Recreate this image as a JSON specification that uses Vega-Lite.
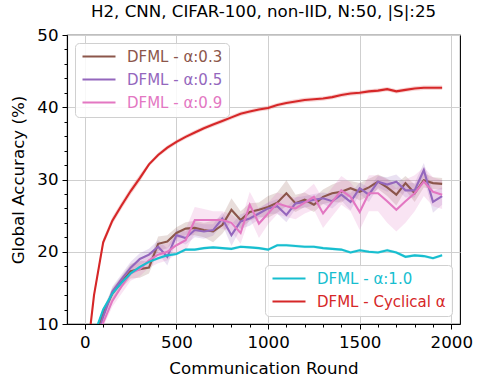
{
  "$schema": "https://vega.github.io/schema/vega-lite/v6.json",
  "width": 393,
  "height": 289,
  "autosize": {"type": "none"},
  "padding": {"left": 67, "top": 35, "right": 25, "bottom": 63},
  "background": "white",
  "config": {
    "font": "DejaVu Sans",
    "view": {"stroke": "black", "strokeWidth": 1.1},
    "axis": {
      "domainColor": "black", "domainWidth": 1.1, "tickColor": "black", "tickWidth": 1,
      "labelColor": "black", "titleColor": "black", "labelFont": "DejaVu Sans", "titleFont": "DejaVu Sans",
      "labelFontSize": 16.67, "titleFontSize": 16.67, "titleFontWeight": "normal",
      "gridColor": "#cfcfcf", "gridWidth": 1
    },
    "legend": {
      "labelFont": "DejaVu Sans", "labelFontSize": 15, "symbolType": "stroke", "symbolSize": 1089,
      "symbolStrokeWidth": 2.2, "labelOffset": 10, "rowPadding": 7, "padding": 6, "clipHeight": 15,
      "strokeColor": "#d0d0d0", "fillColor": "rgba(255,255,255,0.85)", "cornerRadius": 4, "offset": 8
    }
  },
  "title": {"text": "H2, CNN, CIFAR-100, non-IID, N:50, |S|:25", "font": "DejaVu Sans", "fontSize": 16.67, "fontWeight": "normal", "color": "black", "anchor": "middle", "offset": 6},
  "data": {"values": [
    {"round":0,"series":"DFML - α:0.3","acc":4,"lo":3.7,"hi":4.3},
    {"round":50,"series":"DFML - α:0.3","acc":7.5,"lo":7.1,"hi":7.9},
    {"round":100,"series":"DFML - α:0.3","acc":11.5,"lo":10.9,"hi":12.1},
    {"round":150,"series":"DFML - α:0.3","acc":14.2,"lo":13.4,"hi":15.0},
    {"round":200,"series":"DFML - α:0.3","acc":15.8,"lo":15.0,"hi":16.6},
    {"round":250,"series":"DFML - α:0.3","acc":17.3,"lo":16.3,"hi":18.3},
    {"round":300,"series":"DFML - α:0.3","acc":17.6,"lo":16.4,"hi":18.8},
    {"round":350,"series":"DFML - α:0.3","acc":17.8,"lo":17.0,"hi":18.6},
    {"round":400,"series":"DFML - α:0.3","acc":21.1,"lo":20.1,"hi":22.1},
    {"round":450,"series":"DFML - α:0.3","acc":21.4,"lo":20.5,"hi":22.3},
    {"round":500,"series":"DFML - α:0.3","acc":22.6,"lo":21.8,"hi":23.4},
    {"round":550,"series":"DFML - α:0.3","acc":23.2,"lo":22.3,"hi":24.1},
    {"round":600,"series":"DFML - α:0.3","acc":23.3,"lo":22.3,"hi":24.3},
    {"round":650,"series":"DFML - α:0.3","acc":23.0,"lo":22.0,"hi":24.0},
    {"round":700,"series":"DFML - α:0.3","acc":22.8,"lo":21.3,"hi":24.3},
    {"round":750,"series":"DFML - α:0.3","acc":23.7,"lo":22.5,"hi":24.9},
    {"round":800,"series":"DFML - α:0.3","acc":25.8,"lo":24.2,"hi":27.4},
    {"round":850,"series":"DFML - α:0.3","acc":24.4,"lo":23.2,"hi":25.6},
    {"round":900,"series":"DFML - α:0.3","acc":25.5,"lo":24.3,"hi":26.7},
    {"round":950,"series":"DFML - α:0.3","acc":25.8,"lo":24.8,"hi":26.8},
    {"round":1000,"series":"DFML - α:0.3","acc":26.2,"lo":24.7,"hi":27.7},
    {"round":1050,"series":"DFML - α:0.3","acc":26.8,"lo":25.4,"hi":28.2},
    {"round":1100,"series":"DFML - α:0.3","acc":28.1,"lo":26.3,"hi":29.9},
    {"round":1150,"series":"DFML - α:0.3","acc":26.7,"lo":25.5,"hi":27.9},
    {"round":1200,"series":"DFML - α:0.3","acc":27.2,"lo":26.2,"hi":28.2},
    {"round":1250,"series":"DFML - α:0.3","acc":26.5,"lo":25.5,"hi":27.5},
    {"round":1300,"series":"DFML - α:0.3","acc":27.6,"lo":26.6,"hi":28.6},
    {"round":1350,"series":"DFML - α:0.3","acc":28.1,"lo":26.9,"hi":29.3},
    {"round":1400,"series":"DFML - α:0.3","acc":28.3,"lo":26.8,"hi":29.8},
    {"round":1450,"series":"DFML - α:0.3","acc":28.8,"lo":27.8,"hi":29.8},
    {"round":1500,"series":"DFML - α:0.3","acc":28.3,"lo":27.1,"hi":29.5},
    {"round":1550,"series":"DFML - α:0.3","acc":28.9,"lo":27.7,"hi":30.1},
    {"round":1600,"series":"DFML - α:0.3","acc":29.7,"lo":28.7,"hi":30.7},
    {"round":1650,"series":"DFML - α:0.3","acc":28.9,"lo":27.7,"hi":30.1},
    {"round":1700,"series":"DFML - α:0.3","acc":27.9,"lo":26.4,"hi":29.4},
    {"round":1750,"series":"DFML - α:0.3","acc":29.5,"lo":28.5,"hi":30.5},
    {"round":1800,"series":"DFML - α:0.3","acc":28.1,"lo":26.9,"hi":29.3},
    {"round":1850,"series":"DFML - α:0.3","acc":29.9,"lo":28.9,"hi":30.9},
    {"round":1900,"series":"DFML - α:0.3","acc":29.5,"lo":28.7,"hi":30.3},
    {"round":1950,"series":"DFML - α:0.3","acc":29.4,"lo":28.6,"hi":30.2},

    {"round":0,"series":"DFML - α:0.5","acc":3,"lo":2.7,"hi":3.3},
    {"round":50,"series":"DFML - α:0.5","acc":6.5,"lo":6.1,"hi":6.9},
    {"round":100,"series":"DFML - α:0.5","acc":11.0,"lo":10.4,"hi":11.6},
    {"round":150,"series":"DFML - α:0.5","acc":14.5,"lo":13.8,"hi":15.2},
    {"round":200,"series":"DFML - α:0.5","acc":16.2,"lo":15.5,"hi":16.9},
    {"round":250,"series":"DFML - α:0.5","acc":17.8,"lo":17.0,"hi":18.6},
    {"round":300,"series":"DFML - α:0.5","acc":19.0,"lo":18.2,"hi":19.8},
    {"round":350,"series":"DFML - α:0.5","acc":19.6,"lo":18.8,"hi":20.4},
    {"round":400,"series":"DFML - α:0.5","acc":20.7,"lo":19.8,"hi":21.6},
    {"round":450,"series":"DFML - α:0.5","acc":19.3,"lo":18.1,"hi":20.5},
    {"round":500,"series":"DFML - α:0.5","acc":22.3,"lo":21.5,"hi":23.1},
    {"round":550,"series":"DFML - α:0.5","acc":21.9,"lo":21.0,"hi":22.8},
    {"round":600,"series":"DFML - α:0.5","acc":23.0,"lo":22.0,"hi":24.0},
    {"round":650,"series":"DFML - α:0.5","acc":22.8,"lo":21.8,"hi":23.8},
    {"round":700,"series":"DFML - α:0.5","acc":23.0,"lo":22.2,"hi":23.8},
    {"round":750,"series":"DFML - α:0.5","acc":24.6,"lo":23.8,"hi":25.4},
    {"round":800,"series":"DFML - α:0.5","acc":22.3,"lo":20.8,"hi":23.8},
    {"round":850,"series":"DFML - α:0.5","acc":24.2,"lo":23.2,"hi":25.2},
    {"round":900,"series":"DFML - α:0.5","acc":24.6,"lo":23.6,"hi":25.6},
    {"round":950,"series":"DFML - α:0.5","acc":25.3,"lo":24.5,"hi":26.1},
    {"round":1000,"series":"DFML - α:0.5","acc":26.0,"lo":25.2,"hi":26.8},
    {"round":1050,"series":"DFML - α:0.5","acc":26.3,"lo":25.3,"hi":27.3},
    {"round":1100,"series":"DFML - α:0.5","acc":25.1,"lo":24.1,"hi":26.1},
    {"round":1150,"series":"DFML - α:0.5","acc":26.7,"lo":25.9,"hi":27.5},
    {"round":1200,"series":"DFML - α:0.5","acc":26.9,"lo":26.1,"hi":27.7},
    {"round":1250,"series":"DFML - α:0.5","acc":27.2,"lo":26.4,"hi":28.0},
    {"round":1300,"series":"DFML - α:0.5","acc":27.4,"lo":26.6,"hi":28.2},
    {"round":1350,"series":"DFML - α:0.5","acc":27.0,"lo":26.0,"hi":28.0},
    {"round":1400,"series":"DFML - α:0.5","acc":27.9,"lo":27.1,"hi":28.7},
    {"round":1450,"series":"DFML - α:0.5","acc":26.9,"lo":25.7,"hi":28.1},
    {"round":1500,"series":"DFML - α:0.5","acc":28.8,"lo":28.0,"hi":29.6},
    {"round":1550,"series":"DFML - α:0.5","acc":27.9,"lo":26.9,"hi":28.9},
    {"round":1600,"series":"DFML - α:0.5","acc":29.7,"lo":28.9,"hi":30.5},
    {"round":1650,"series":"DFML - α:0.5","acc":29.3,"lo":28.3,"hi":30.3},
    {"round":1700,"series":"DFML - α:0.5","acc":29.7,"lo":28.7,"hi":30.7},
    {"round":1750,"series":"DFML - α:0.5","acc":28.5,"lo":27.5,"hi":29.5},
    {"round":1800,"series":"DFML - α:0.5","acc":28.5,"lo":27.5,"hi":29.5},
    {"round":1850,"series":"DFML - α:0.5","acc":31.3,"lo":30.3,"hi":32.3},
    {"round":1900,"series":"DFML - α:0.5","acc":26.9,"lo":25.4,"hi":28.4},
    {"round":1950,"series":"DFML - α:0.5","acc":27.7,"lo":26.5,"hi":28.9},

    {"round":0,"series":"DFML - α:0.9","acc":2,"lo":1.7,"hi":2.3},
    {"round":50,"series":"DFML - α:0.9","acc":5.5,"lo":5.1,"hi":5.9},
    {"round":100,"series":"DFML - α:0.9","acc":10.2,"lo":9.6,"hi":10.8},
    {"round":150,"series":"DFML - α:0.9","acc":13.2,"lo":12.4,"hi":14.0},
    {"round":200,"series":"DFML - α:0.9","acc":15.2,"lo":14.2,"hi":16.2},
    {"round":250,"series":"DFML - α:0.9","acc":17.0,"lo":16.0,"hi":18.0},
    {"round":300,"series":"DFML - α:0.9","acc":17.6,"lo":16.6,"hi":18.6},
    {"round":350,"series":"DFML - α:0.9","acc":18.8,"lo":17.8,"hi":19.8},
    {"round":400,"series":"DFML - α:0.9","acc":19.6,"lo":18.4,"hi":20.8},
    {"round":450,"series":"DFML - α:0.9","acc":20.0,"lo":18.8,"hi":21.2},
    {"round":500,"series":"DFML - α:0.9","acc":20.9,"lo":19.7,"hi":22.1},
    {"round":550,"series":"DFML - α:0.9","acc":21.6,"lo":20.1,"hi":23.1},
    {"round":600,"series":"DFML - α:0.9","acc":24.4,"lo":22.6,"hi":26.2},
    {"round":650,"series":"DFML - α:0.9","acc":24.4,"lo":22.9,"hi":25.9},
    {"round":700,"series":"DFML - α:0.9","acc":24.4,"lo":23.2,"hi":25.6},
    {"round":750,"series":"DFML - α:0.9","acc":24.4,"lo":23.2,"hi":25.6},
    {"round":800,"series":"DFML - α:0.9","acc":24.0,"lo":22.8,"hi":25.2},
    {"round":850,"series":"DFML - α:0.9","acc":22.6,"lo":21.1,"hi":24.1},
    {"round":900,"series":"DFML - α:0.9","acc":26.5,"lo":24.7,"hi":28.3},
    {"round":950,"series":"DFML - α:0.9","acc":23.9,"lo":21.9,"hi":25.9},
    {"round":1000,"series":"DFML - α:0.9","acc":25.3,"lo":23.8,"hi":26.8},
    {"round":1050,"series":"DFML - α:0.9","acc":26.7,"lo":25.2,"hi":28.2},
    {"round":1100,"series":"DFML - α:0.9","acc":26.3,"lo":24.8,"hi":27.8},
    {"round":1150,"series":"DFML - α:0.9","acc":26.0,"lo":24.5,"hi":27.5},
    {"round":1200,"series":"DFML - α:0.9","acc":26.8,"lo":25.3,"hi":28.3},
    {"round":1250,"series":"DFML - α:0.9","acc":27.6,"lo":25.8,"hi":29.4},
    {"round":1300,"series":"DFML - α:0.9","acc":25.3,"lo":23.3,"hi":27.3},
    {"round":1350,"series":"DFML - α:0.9","acc":26.9,"lo":24.9,"hi":28.9},
    {"round":1400,"series":"DFML - α:0.9","acc":28.5,"lo":26.5,"hi":30.5},
    {"round":1450,"series":"DFML - α:0.9","acc":27.6,"lo":25.6,"hi":29.6},
    {"round":1500,"series":"DFML - α:0.9","acc":25.5,"lo":23.0,"hi":28.0},
    {"round":1550,"series":"DFML - α:0.9","acc":28.1,"lo":25.6,"hi":30.6},
    {"round":1600,"series":"DFML - α:0.9","acc":28.1,"lo":25.6,"hi":30.6},
    {"round":1650,"series":"DFML - α:0.9","acc":27.0,"lo":24.0,"hi":30.0},
    {"round":1700,"series":"DFML - α:0.9","acc":25.8,"lo":22.8,"hi":28.8},
    {"round":1750,"series":"DFML - α:0.9","acc":27.0,"lo":24.0,"hi":30.0},
    {"round":1800,"series":"DFML - α:0.9","acc":28.1,"lo":25.6,"hi":30.6},
    {"round":1850,"series":"DFML - α:0.9","acc":29.7,"lo":27.7,"hi":31.7},
    {"round":1900,"series":"DFML - α:0.9","acc":28.3,"lo":26.3,"hi":30.3},
    {"round":1950,"series":"DFML - α:0.9","acc":27.9,"lo":25.9,"hi":29.9},

    {"round":0,"series":"DFML - α:1.0","acc":5,"lo":4.8,"hi":5.2},
    {"round":50,"series":"DFML - α:1.0","acc":8.5,"lo":8.3,"hi":8.7},
    {"round":100,"series":"DFML - α:1.0","acc":12.0,"lo":11.8,"hi":12.2},
    {"round":150,"series":"DFML - α:1.0","acc":14.2,"lo":14.0,"hi":14.4},
    {"round":200,"series":"DFML - α:1.0","acc":15.7,"lo":15.5,"hi":15.9},
    {"round":250,"series":"DFML - α:1.0","acc":17.0,"lo":16.8,"hi":17.2},
    {"round":300,"series":"DFML - α:1.0","acc":17.9,"lo":17.7,"hi":18.1},
    {"round":350,"series":"DFML - α:1.0","acc":18.6,"lo":18.4,"hi":18.8},
    {"round":400,"series":"DFML - α:1.0","acc":19.1,"lo":18.9,"hi":19.3},
    {"round":450,"series":"DFML - α:1.0","acc":19.5,"lo":19.3,"hi":19.7},
    {"round":500,"series":"DFML - α:1.0","acc":19.7,"lo":19.5,"hi":19.9},
    {"round":550,"series":"DFML - α:1.0","acc":20.3,"lo":20.1,"hi":20.5},
    {"round":600,"series":"DFML - α:1.0","acc":20.3,"lo":20.1,"hi":20.5},
    {"round":650,"series":"DFML - α:1.0","acc":20.5,"lo":20.3,"hi":20.7},
    {"round":700,"series":"DFML - α:1.0","acc":20.6,"lo":20.4,"hi":20.8},
    {"round":750,"series":"DFML - α:1.0","acc":20.5,"lo":20.3,"hi":20.7},
    {"round":800,"series":"DFML - α:1.0","acc":20.4,"lo":20.2,"hi":20.6},
    {"round":850,"series":"DFML - α:1.0","acc":20.7,"lo":20.5,"hi":20.9},
    {"round":900,"series":"DFML - α:1.0","acc":20.6,"lo":20.4,"hi":20.8},
    {"round":950,"series":"DFML - α:1.0","acc":20.5,"lo":20.3,"hi":20.7},
    {"round":1000,"series":"DFML - α:1.0","acc":20.3,"lo":20.1,"hi":20.5},
    {"round":1050,"series":"DFML - α:1.0","acc":20.9,"lo":20.7,"hi":21.1},
    {"round":1100,"series":"DFML - α:1.0","acc":20.9,"lo":20.7,"hi":21.1},
    {"round":1150,"series":"DFML - α:1.0","acc":20.8,"lo":20.6,"hi":21.0},
    {"round":1200,"series":"DFML - α:1.0","acc":20.7,"lo":20.5,"hi":20.9},
    {"round":1250,"series":"DFML - α:1.0","acc":20.7,"lo":20.5,"hi":20.9},
    {"round":1300,"series":"DFML - α:1.0","acc":20.5,"lo":20.3,"hi":20.7},
    {"round":1350,"series":"DFML - α:1.0","acc":20.4,"lo":20.2,"hi":20.6},
    {"round":1400,"series":"DFML - α:1.0","acc":20.3,"lo":20.1,"hi":20.5},
    {"round":1450,"series":"DFML - α:1.0","acc":19.9,"lo":19.7,"hi":20.1},
    {"round":1500,"series":"DFML - α:1.0","acc":20.2,"lo":20.0,"hi":20.4},
    {"round":1550,"series":"DFML - α:1.0","acc":20.0,"lo":19.8,"hi":20.2},
    {"round":1600,"series":"DFML - α:1.0","acc":19.9,"lo":19.7,"hi":20.1},
    {"round":1650,"series":"DFML - α:1.0","acc":20.2,"lo":20.0,"hi":20.4},
    {"round":1700,"series":"DFML - α:1.0","acc":19.9,"lo":19.7,"hi":20.1},
    {"round":1750,"series":"DFML - α:1.0","acc":19.3,"lo":19.1,"hi":19.5},
    {"round":1800,"series":"DFML - α:1.0","acc":19.5,"lo":19.3,"hi":19.7},
    {"round":1850,"series":"DFML - α:1.0","acc":19.4,"lo":19.2,"hi":19.6},
    {"round":1900,"series":"DFML - α:1.0","acc":19.1,"lo":18.9,"hi":19.3},
    {"round":1950,"series":"DFML - α:1.0","acc":19.5,"lo":19.3,"hi":19.7},

    {"round":0,"series":"DFML - Cyclical α","acc":3,"lo":2.5,"hi":3.5},
    {"round":50,"series":"DFML - Cyclical α","acc":14.0,"lo":13.5,"hi":14.5},
    {"round":100,"series":"DFML - Cyclical α","acc":21.3,"lo":20.8,"hi":21.8},
    {"round":150,"series":"DFML - Cyclical α","acc":24.3,"lo":23.8,"hi":24.8},
    {"round":200,"series":"DFML - Cyclical α","acc":26.4,"lo":25.9,"hi":26.9},
    {"round":250,"series":"DFML - Cyclical α","acc":28.4,"lo":27.9,"hi":28.9},
    {"round":300,"series":"DFML - Cyclical α","acc":30.2,"lo":29.7,"hi":30.7},
    {"round":350,"series":"DFML - Cyclical α","acc":32.1,"lo":31.8,"hi":32.4},
    {"round":400,"series":"DFML - Cyclical α","acc":33.4,"lo":33.1,"hi":33.7},
    {"round":450,"series":"DFML - Cyclical α","acc":34.4,"lo":34.1,"hi":34.7},
    {"round":500,"series":"DFML - Cyclical α","acc":35.2,"lo":34.9,"hi":35.5},
    {"round":550,"series":"DFML - Cyclical α","acc":35.9,"lo":35.6,"hi":36.2},
    {"round":600,"series":"DFML - Cyclical α","acc":36.5,"lo":36.2,"hi":36.8},
    {"round":650,"series":"DFML - Cyclical α","acc":37.1,"lo":36.8,"hi":37.4},
    {"round":700,"series":"DFML - Cyclical α","acc":37.6,"lo":37.3,"hi":37.9},
    {"round":750,"series":"DFML - Cyclical α","acc":38.1,"lo":37.8,"hi":38.4},
    {"round":800,"series":"DFML - Cyclical α","acc":38.6,"lo":38.3,"hi":38.9},
    {"round":850,"series":"DFML - Cyclical α","acc":39.1,"lo":38.8,"hi":39.4},
    {"round":900,"series":"DFML - Cyclical α","acc":39.4,"lo":39.1,"hi":39.7},
    {"round":950,"series":"DFML - Cyclical α","acc":39.7,"lo":39.4,"hi":40.0},
    {"round":1000,"series":"DFML - Cyclical α","acc":39.9,"lo":39.6,"hi":40.2},
    {"round":1050,"series":"DFML - Cyclical α","acc":40.3,"lo":40.0,"hi":40.6},
    {"round":1100,"series":"DFML - Cyclical α","acc":40.6,"lo":40.3,"hi":40.9},
    {"round":1150,"series":"DFML - Cyclical α","acc":40.8,"lo":40.5,"hi":41.1},
    {"round":1200,"series":"DFML - Cyclical α","acc":41.0,"lo":40.7,"hi":41.3},
    {"round":1250,"series":"DFML - Cyclical α","acc":41.1,"lo":40.8,"hi":41.4},
    {"round":1300,"series":"DFML - Cyclical α","acc":41.2,"lo":40.9,"hi":41.5},
    {"round":1350,"series":"DFML - Cyclical α","acc":41.4,"lo":41.1,"hi":41.7},
    {"round":1400,"series":"DFML - Cyclical α","acc":41.7,"lo":41.4,"hi":42.0},
    {"round":1450,"series":"DFML - Cyclical α","acc":41.9,"lo":41.6,"hi":42.2},
    {"round":1500,"series":"DFML - Cyclical α","acc":42.0,"lo":41.7,"hi":42.3},
    {"round":1550,"series":"DFML - Cyclical α","acc":42.2,"lo":41.9,"hi":42.5},
    {"round":1600,"series":"DFML - Cyclical α","acc":42.3,"lo":42.0,"hi":42.6},
    {"round":1650,"series":"DFML - Cyclical α","acc":42.5,"lo":42.2,"hi":42.8},
    {"round":1700,"series":"DFML - Cyclical α","acc":42.2,"lo":41.9,"hi":42.5},
    {"round":1750,"series":"DFML - Cyclical α","acc":42.4,"lo":42.1,"hi":42.7},
    {"round":1800,"series":"DFML - Cyclical α","acc":42.6,"lo":42.3,"hi":42.9},
    {"round":1850,"series":"DFML - Cyclical α","acc":42.7,"lo":42.4,"hi":43.0},
    {"round":1900,"series":"DFML - Cyclical α","acc":42.7,"lo":42.4,"hi":43.0},
    {"round":1950,"series":"DFML - Cyclical α","acc":42.7,"lo":42.4,"hi":43.0}
  ]},
  "layer": [
    {
      "transform": [{"filter": {"field": "series", "oneOf": ["DFML - α:0.3", "DFML - α:0.5", "DFML - α:0.9"]}}],
      "mark": {"type": "area", "opacity": 0.2, "clip": true},
      "encoding": {
        "x": {"field": "round", "type": "quantitative", "scale": {"domain": [-97.5, 2047.5], "nice": false, "zero": false},
              "axis": {"orient": "bottom", "values": [100,200,300,400,600,700,800,900,1100,1200,1300,1400,1600,1700,1800,1900], "labels": false, "grid": false, "domain": false, "tickSize": 3, "title": null}},
        "y": {"field": "lo", "type": "quantitative", "stack": null, "scale": {"domain": [10, 50], "nice": false, "zero": false},
              "axis": {"orient": "left", "values": [12,14,16,18,22,24,26,28,32,34,36,38,42,44,46,48], "labels": false, "grid": false, "domain": false, "tickSize": 3, "title": null}},
        "y2": {"field": "hi"},
        "color": {"field": "series", "type": "nominal", "scale": {"domain": ["DFML - α:0.3", "DFML - α:0.5", "DFML - α:0.9"], "range": ["#8c564b", "#9467bd", "#e377c2"]}, "legend": null}
      }
    },
    {
      "transform": [{"filter": {"field": "series", "oneOf": ["DFML - α:1.0", "DFML - Cyclical α"]}}],
      "mark": {"type": "area", "opacity": 0.2, "clip": true},
      "encoding": {
        "x": {"field": "round", "type": "quantitative", "axis": null},
        "y": {"field": "lo", "type": "quantitative", "stack": null, "axis": null},
        "y2": {"field": "hi"},
        "color": {"field": "series", "type": "nominal", "scale": {"domain": ["DFML - α:1.0", "DFML - Cyclical α"], "range": ["#17becf", "#d62728"]}, "legend": null}
      }
    },
    {
      "transform": [{"filter": {"field": "series", "oneOf": ["DFML - α:0.3", "DFML - α:0.5", "DFML - α:0.9"]}}],
      "mark": {"type": "line", "strokeWidth": 2.1, "clip": true},
      "encoding": {
        "x": {"field": "round", "type": "quantitative", "title": "Communication Round",
              "axis": {"orient": "bottom", "values": [0, 500, 1000, 1500, 2000], "format": "d", "grid": true, "tickSize": 5, "labelPadding": 5, "titlePadding": 10, "labelFlush": false}},
        "y": {"field": "acc", "type": "quantitative", "title": "Global Accuracy (%)",
              "axis": {"orient": "left", "values": [10, 20, 30, 40, 50], "format": "d", "grid": true, "tickSize": 5, "labelPadding": 4, "titlePadding": 9, "labelFlush": false}},
        "color": {"field": "series", "type": "nominal", "scale": {"domain": ["DFML - α:0.3", "DFML - α:0.5", "DFML - α:0.9"], "range": ["#8c564b", "#9467bd", "#e377c2"]},
                  "legend": {"orient": "top-left", "title": null,
                             "encode": {"labels": {"update": {"fill": {"signal": "datum.value === 'DFML - α:0.3' ? '#8c564b' : datum.value === 'DFML - α:0.5' ? '#9467bd' : '#e377c2'"}}}}}}
      }
    },
    {
      "transform": [{"filter": {"field": "series", "oneOf": ["DFML - α:1.0", "DFML - Cyclical α"]}}],
      "mark": {"type": "line", "strokeWidth": 2.1, "clip": true},
      "encoding": {
        "x": {"field": "round", "type": "quantitative", "axis": null},
        "y": {"field": "acc", "type": "quantitative", "axis": null},
        "color": {"field": "series", "type": "nominal", "scale": {"domain": ["DFML - α:1.0", "DFML - Cyclical α"], "range": ["#17becf", "#d62728"]},
                  "legend": {"orient": "bottom-right", "title": null,
                             "encode": {"labels": {"update": {"fill": {"signal": "datum.value === 'DFML - α:1.0' ? '#17becf' : '#d62728'"}}}}}}
      }
    }
  ],
  "resolve": {"scale": {"color": "independent"}, "axis": {"x": "independent", "y": "independent"}}
}
